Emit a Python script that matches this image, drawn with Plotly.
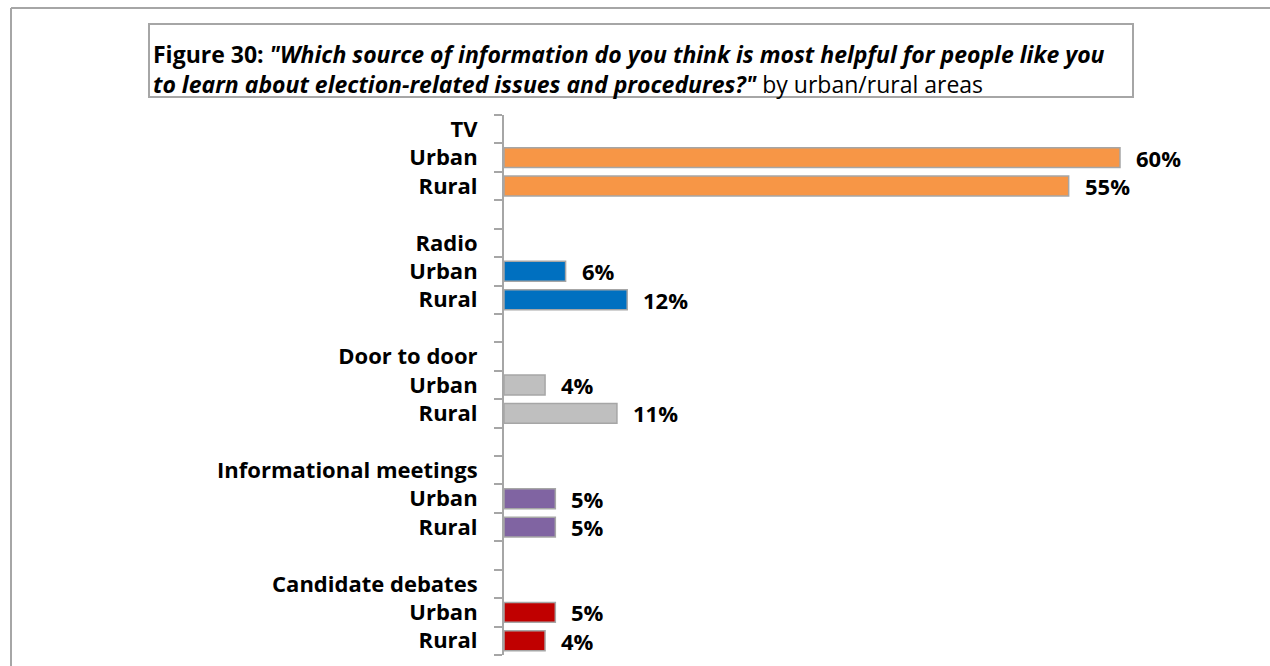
import plotly.graph_objects as go

# Survey results: most helpful information source, by area
sources = ["TV", "Radio", "Door to door", "Informational meetings", "Candidate debates"]
urban = [60, 6, 4, 5, 5]
rural = [55, 12, 11, 5, 4]
colors = ["#F79646", "#0070C0", "#BFBFBF", "#8064A2", "#C00000"]
area_labels = ["Urban", "Rural"]

FONT = "Open Sans"
GRAY = "#A6A6A6"

W, H = 1270, 666
L, R, T, B = 504, 20, 115, 11
pw, ph = W - L - R, H - T - B

# each source uses a header row, two bar rows and a spacer row
n_rows = len(sources) * 4 - 1
tickvals, ticktext = [], []
fig = go.Figure()
annotations = []
for i, (src, u, r, c) in enumerate(zip(sources, urban, rural, colors)):
    base = i * 4
    tickvals += [base, base + 1, base + 2]
    ticktext += [src] + area_labels
    fig.add_trace(go.Bar(
        orientation="h",
        y=[base + 1, base + 2],
        x=[u, r],
        width=0.7,
        marker=dict(color=c, line=dict(color=GRAY, width=1.5)),
        showlegend=False,
        hoverinfo="skip",
    ))
    for val, row in ((u, base + 1), (r, base + 2)):
        annotations.append(dict(
            x=val, y=row, xref="x", yref="y", text=f"{val}%",
            xanchor="left", yanchor="middle", xshift=14, showarrow=False,
            font=dict(family=FONT, size=22, color="black", weight="bold"),
        ))

x_max = 60 * pw / (1120 - L)


def px_x(px):
    return (px - L) / pw


def px_y(py):
    return (H - B - py) / ph


title = ('<b>Figure 30: </b><b><i>"Which source of information do you think is most '
         'helpful for people like you</i></b><br><b><i>to learn about election-related '
         'issues and procedures?"</i></b> by urban/rural areas')
annotations.append(dict(
    x=px_x(151), y=px_y(69), xref="paper", yref="paper", text=title,
    xanchor="left", yanchor="middle", align="left", showarrow=False,
    font=dict(family=FONT, size=23, color="black"),
))

shapes = [
    # title frame
    dict(type="rect", xref="paper", yref="paper",
         x0=px_x(149), x1=px_x(1133), y0=px_y(97), y1=px_y(24),
         line=dict(color=GRAY, width=2), fillcolor="rgba(0,0,0,0)", layer="above"),
    # outer border
    dict(type="line", xref="paper", yref="paper",
         x0=px_x(11), x1=px_x(1275), y0=px_y(8), y1=px_y(8),
         line=dict(color=GRAY, width=2)),
    dict(type="line", xref="paper", yref="paper",
         x0=px_x(11), x1=px_x(11), y0=px_y(8), y1=px_y(670),
         line=dict(color=GRAY, width=2)),
]

fig.update_layout(
    width=W, height=H,
    margin=dict(l=L, r=R, t=T, b=B),
    paper_bgcolor="white", plot_bgcolor="white",
    bargap=0.3,
    annotations=annotations,
    shapes=shapes,
    xaxis=dict(range=[0, x_max], visible=False, fixedrange=True),
    yaxis=dict(
        range=[n_rows - 0.5, -0.5],
        tickmode="array", tickvals=tickvals, ticktext=ticktext,
        ticks="outside", ticklen=8, tickcolor="rgba(0,0,0,0)",
        ticklabelstandoff=12,
        tickfont=dict(family=FONT, size=22, color="black", weight="bold"),
        showline=True, linecolor=GRAY, linewidth=2,
        showgrid=False, zeroline=False,
        minor=dict(tickmode="array",
                   tickvals=[k - 0.5 for k in range(n_rows + 1)],
                   ticks="outside", ticklen=8, tickcolor=GRAY, tickwidth=2,
                   showgrid=False),
        fixedrange=True,
    ),
)

fig.write_html("out.html")
